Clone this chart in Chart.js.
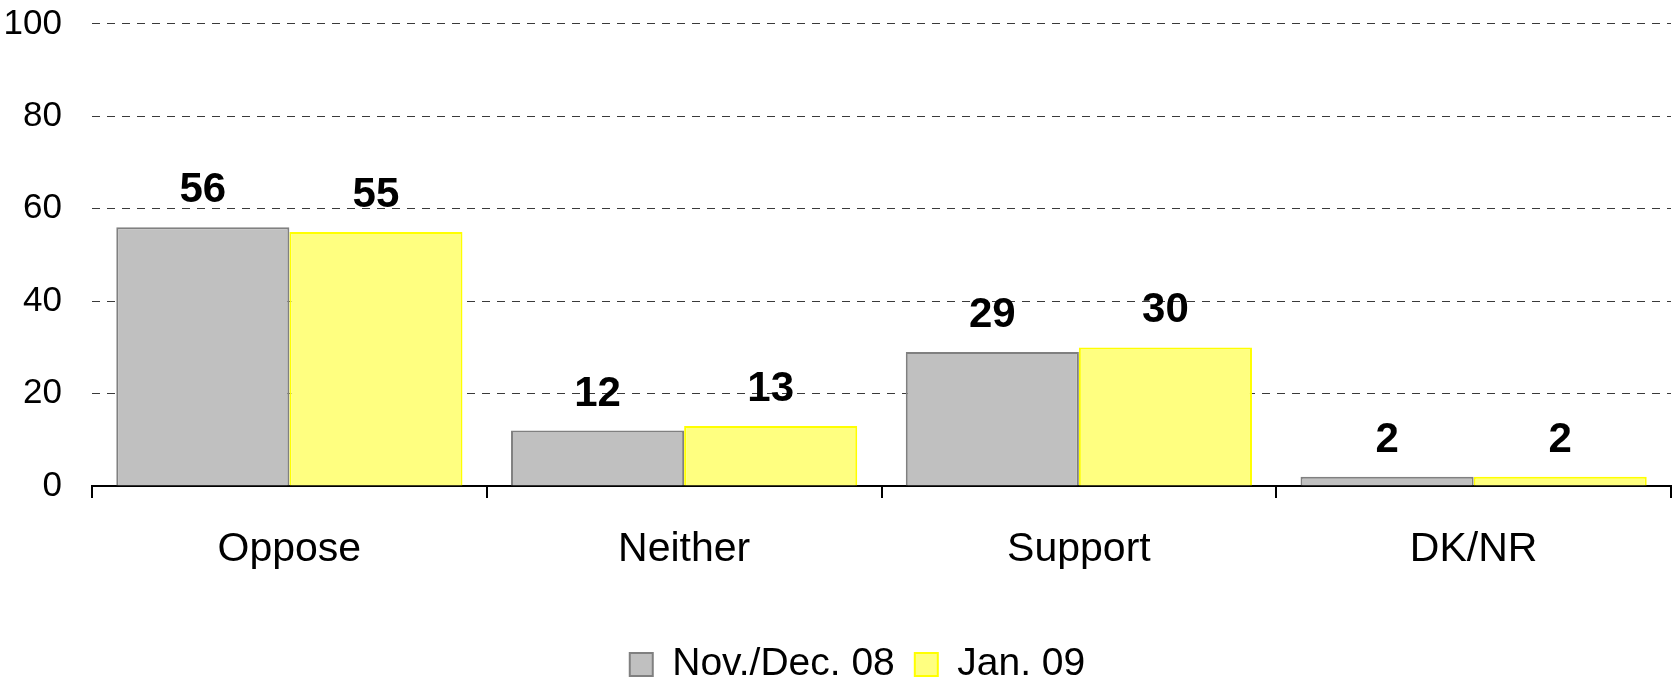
<!DOCTYPE html>
<html>
<head>
<meta charset="utf-8">
<script src="https://cdn.jsdelivr.net/npm/chart.js@4/dist/chart.umd.min.js"></script>
<style>
  html, body { margin: 0; padding: 0; background: #ffffff; }
  #wrap { width: 1679px; height: 694px; position: relative; }
</style>
</head>
<body>
<div id="wrap"><canvas id="c" width="1679" height="694"></canvas></div>
<script>
const categories = ["Oppose", "Neither", "Support", "DK/NR"];
const seriesNames = ["Nov./Dec. 08", "Jan. 09"];
const novDec08 = [56, 12, 29, 2];
const jan09 = [55, 13, 30, 2];
const yTicks = [0, 20, 40, 60, 80, 100];

const FONT = "'Liberation Sans', Arial, Helvetica, sans-serif";

const dataLabels = {
  id: 'dataLabels',
  afterDatasetsDraw(chart) {
    const ctx = chart.ctx;
    ctx.save();
    ctx.font = "bold 42px " + FONT;
    ctx.fillStyle = '#000000';
    ctx.textAlign = 'center';
    ctx.textBaseline = 'alphabetic';
    chart.data.datasets.forEach((ds, di) => {
      const meta = chart.getDatasetMeta(di);
      meta.data.forEach((el, i) => {
        ctx.fillText(String(ds.data[i]), el.x, el.y - 25);
      });
    });
    ctx.restore();
  }
};

const legendShift = {
  id: 'legendShift',
  afterLayout(chart) {
    if (chart.legend) {
      chart.legend.left += 22;
      chart.legend.right += 22;
    }
  }
};

new Chart(document.getElementById('c'), {
  type: 'bar',
  data: {
    labels: categories,
    datasets: [
      {
        label: seriesNames[0],
        data: novDec08,
        backgroundColor: '#C0C0C0',
        borderColor: '#808080',
        borderWidth: 2,
        borderSkipped: 'bottom',
        categoryPercentage: 0.877,
        barPercentage: 1.0
      },
      {
        label: seriesNames[1],
        data: jan09,
        backgroundColor: '#FFFF80',
        borderColor: '#FFFF00',
        borderWidth: 2,
        borderSkipped: 'bottom',
        categoryPercentage: 0.877,
        barPercentage: 1.0
      }
    ]
  },
  options: {
    responsive: false,
    animation: false,
    devicePixelRatio: 1,
    layout: { padding: { top: 0, right: 8, bottom: 0, left: 0 } },
    plugins: {
      legend: {
        display: true,
        position: 'bottom',
        labels: {
          boxWidth: 23,
          boxHeight: 23,
          padding: 20,
          color: '#000000',
          font: { family: FONT, size: 39 }
        }
      },
      tooltip: { enabled: false }
    },
    scales: {
      x: {
        type: 'category',
        offset: true,
        grid: {
          offset: true,
          drawOnChartArea: false,
          drawTicks: true,
          tickLength: 12,
          color: '#000000',
          lineWidth: 2
        },
        border: { display: true, color: '#000000', width: 2 },
        ticks: {
          color: '#000000',
          padding: 27,
          font: { family: FONT, size: 41 }
        },
        afterFit(scale) { scale.height = 139; }
      },
      y: {
        min: 0,
        max: 100,
        afterBuildTicks(scale) { scale.ticks = yTicks.map(v => ({ value: v })); },
        grid: {
          drawTicks: true,
          tickLength: 30,
          tickColor: 'rgba(0,0,0,0)',
          color: (c) => (c.tick && c.tick.value === 0) ? 'rgba(0,0,0,0)' : '#3a3a3a',
          lineWidth: 1
        },
        border: { display: false, dash: [8, 7] },
        ticks: {
          color: '#000000',
          padding: 0,
          font: { family: FONT, size: 35, lineHeight: 1.371 }
        },
        afterFit(scale) { scale.width = 92; }
      }
    }
  },
  plugins: [dataLabels, legendShift]
});
</script>
</body>
</html>
